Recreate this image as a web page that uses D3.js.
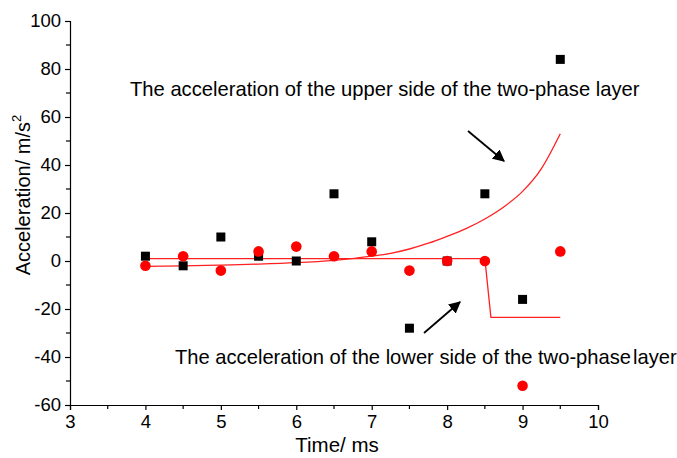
<!DOCTYPE html>
<html><head><meta charset="utf-8">
<script src="https://cdn.jsdelivr.net/npm/d3@7"></script>
<style>body{margin:0;background:#fff}svg{display:block}text{font-family:"Liberation Sans",Arial,sans-serif}</style>
</head><body>
<svg id="c" width="677" height="458"></svg>
<script>
const times = [4, 4.5, 5, 5.5, 6, 6.5, 7, 7.5, 8, 8.5, 9, 9.5];
const upperSide = [2, -2, 10, 2, 0, 28, 8, -28, 0, 28, -16, 84];
const lowerSide = [-2, 2, -4, 4, 6, 2, 4, -4, 0, 0, -52, 4];
const fitX = [4, 4.5, 5, 5.5, 6, 6.5, 7, 7.25, 7.5, 7.75, 8, 8.25, 8.5, 8.75, 9, 9.25, 9.5];
const fitY = [-2.2, -2.0, -1.7, -1.3, -0.7, 0.3, 2.0, 3.2, 5.0, 7.4, 10.3, 13.5, 17.5, 22.5, 29.0, 38.5, 53];
const stepX = [4, 8.5, 8.58, 9.5];
const stepY = [1, 1, -23.5, -23.5];
const xTicks = [3, 4, 5, 6, 7, 8, 9, 10];
const yTicks = [-60, -40, -20, 0, 20, 40, 60, 80, 100];
const labelUpper = "The acceleration of the upper side of the two-phase layer";
const labelLowerA = "The acceleration of the lower side of the two-phase";
const labelLowerB = "layer";

const FF = '"Liberation Sans",Arial,sans-serif';
const svg = d3.select("#c");
const x = d3.scaleLinear().domain([3, 10]).range([70, 598]);
const y = d3.scaleLinear().domain([-60, 100]).range([405, 21]);

// axes
const xAxis = d3.axisBottom(x).tickValues(xTicks).tickFormat(d => String(d)).tickSize(5).tickPadding(5);
const yAxis = d3.axisLeft(y).tickValues(yTicks).tickFormat(d => String(d)).tickSize(5).tickPadding(4);
const gx = svg.append("g").attr("transform", "translate(0,405)").call(xAxis);
const gy = svg.append("g").attr("transform", "translate(70,0)").call(yAxis);
[gx, gy].forEach(g => {
  g.attr("font-size", 18.5).attr("font-family", FF);
  g.select(".domain").attr("stroke", "#000").attr("stroke-width", 1.2);
  g.selectAll(".tick line").attr("stroke", "#000").attr("stroke-width", 1.2);
  g.selectAll(".tick text").attr("fill", "#000");
});
// minor ticks
const xMinor = d3.range(3.5, 10, 1);
const yMinor = d3.range(-50, 100, 20);
svg.append("g").selectAll("line").data(xMinor).join("line")
  .attr("x1", d => x(d)).attr("x2", d => x(d)).attr("y1", 405).attr("y2", 409)
  .attr("stroke", "#000").attr("stroke-width", 1.2);
svg.append("g").selectAll("line").data(yMinor).join("line")
  .attr("y1", d => y(d)).attr("y2", d => y(d)).attr("x1", 70).attr("x2", 66)
  .attr("stroke", "#000").attr("stroke-width", 1.2);

// axis titles
svg.append("text").attr("x", 337).attr("y", 452).attr("text-anchor", "middle")
  .attr("font-size", 20.5).text("Time/ ms");
const yt = svg.append("text").attr("transform", "translate(30,195) rotate(-90)")
  .attr("text-anchor", "middle").attr("font-size", 20);
yt.append("tspan").text("Acceleration/ m/s");
yt.append("tspan").attr("dy", -9).attr("font-size", 13).text("2");

// fitted lines
svg.append("path").datum(fitX.map((d, i) => [d, fitY[i]]))
  .attr("d", d3.line().x(d => x(d[0])).y(d => y(d[1])).curve(d3.curveMonotoneX))
  .attr("fill", "none").attr("stroke", "#ff2020").attr("stroke-width", 1.3);
svg.append("path").datum(stepX.map((d, i) => [d, stepY[i]]))
  .attr("d", d3.line().x(d => x(d[0])).y(d => y(d[1])))
  .attr("fill", "none").attr("stroke", "#ff2020").attr("stroke-width", 1.3);

// points
svg.append("g").selectAll("rect").data(times.map((t, i) => [t, upperSide[i]])).join("rect")
  .attr("x", d => x(d[0]) - 4.5).attr("y", d => y(d[1]) - 4.5).attr("width", 9).attr("height", 9).attr("fill", "#000");
svg.append("g").selectAll("circle").data(times.map((t, i) => [t, lowerSide[i]])).join("circle")
  .attr("cx", d => x(d[0])).attr("cy", d => y(d[1])).attr("r", 5.3).attr("fill", "#ff0000");

// annotations
function fitText(t, w) {
  const fs = 17; t.attr("font-size", fs);
  const len = t.node().getComputedTextLength();
  t.attr("font-size", fs * w / len);
}
const t1 = svg.append("text").attr("x", 130).attr("y", 96).text(labelUpper);
fitText(t1, 510);
const t2 = svg.append("text").attr("x", 175).attr("y", 364);
t2.append("tspan").text(labelLowerA);
t2.append("tspan").attr("dx", 2).text(labelLowerB);
fitText(t2, 500);

// arrows
const defs = svg.append("defs");
defs.append("marker").attr("id", "ah").attr("viewBox", "0 0 10 10").attr("refX", 9).attr("refY", 5)
  .attr("markerWidth", 12).attr("markerHeight", 12).attr("markerUnits", "userSpaceOnUse").attr("orient", "auto")
  .append("path").attr("d", "M0,0 L10,5 L0,10 z").attr("fill", "#000");
svg.append("line").attr("x1", 468).attr("y1", 131).attr("x2", 504).attr("y2", 161)
  .attr("stroke", "#000").attr("stroke-width", 1.8).attr("marker-end", "url(#ah)");
svg.append("line").attr("x1", 424).attr("y1", 333).attr("x2", 460).attr("y2", 302)
  .attr("stroke", "#000").attr("stroke-width", 1.8).attr("marker-end", "url(#ah)");
</script>
</body></html>
